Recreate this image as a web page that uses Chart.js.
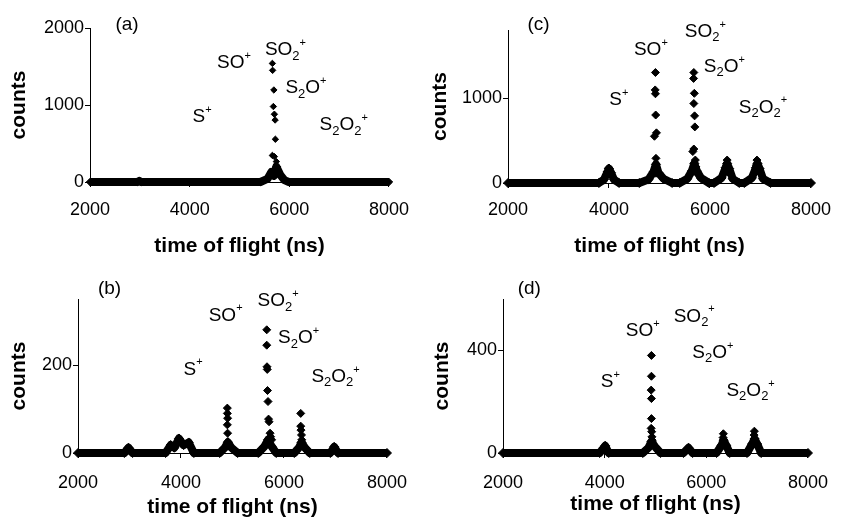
<!DOCTYPE html>
<html>
<head>
<meta charset="utf-8">
<script src="https://cdn.jsdelivr.net/npm/chart.js@4"></script>
<style>
  body { margin: 0; background: #fff; }
  #wrap { position: relative; width: 842px; height: 525px; }
  canvas { position: absolute; }
</style>
</head>
<body>
<div id="wrap">
  <canvas id="chartA" width="421" height="262" style="left:0;top:0"></canvas>
  <canvas id="chartC" width="421" height="262" style="left:421px;top:0"></canvas>
  <canvas id="chartB" width="421" height="263" style="left:0;top:262px"></canvas>
  <canvas id="chartD" width="421" height="263" style="left:421px;top:262px"></canvas>
</div>
<script>
// x-axel (time of flight, ns) - samma för alla fyra paneler
const tofTicks = [2000, 4000, 6000, 8000]
const ionNames = ['S^+', 'SO^+', 'SO_2^+', 'S_2O^+', 'S_2O_2^+']

// panel (a)
const aTicks = [0, 1000, 2000]
const aBaseX = [2000, 2950, 2990, 3030, 5420, 5560, 5640, 5690, 5740, 5820, 5900, 5990, 8000]
const aBaseY = [0, 0, 15, 0, 0, 40, 130, 80, 200, 90, 25, 0, 0]
const aPeakX = [5660, 5665, 5690, 5680, 5700, 5715, 5720, 5660, 5700, 5740, 5760, 5790, 5830]
const aPeakY = [1540, 1450, 1195, 980, 880, 805, 555, 345, 330, 265, 200, 140, 80]

// panel (c)
const cTicks = [0, 1000]
const cBaseX = [2000, 3800, 3900, 3970, 4000, 4040, 4100, 4200, 4600, 4780, 4880, 4930, 4980, 5080, 5250,
  5400, 5550, 5640, 5690, 5740, 5820, 5980, 6080, 6230, 6310, 6340, 6380, 6450, 6580,
  6680, 6830, 6910, 6940, 6980, 7050, 7200, 8000]
const cBaseY = [0, 0, 40, 130, 170, 120, 40, 0, 0, 40, 130, 220, 120, 50, 0,
  0, 50, 140, 230, 140, 60, 0, 0, 60, 180, 230, 170, 50, 0,
  0, 60, 180, 230, 170, 50, 0, 0]
const cPeakX = [4920, 4915, 4920, 4925, 4900, 4940, 4930, 4925, 4930,
  5680, 5675, 5690, 5680, 5695, 5700, 5680, 5660, 5710, 5720, 5730,
  3990, 3980, 6340, 6330, 6350, 6930, 6920, 6940]
const cPeakY = [1300, 1095, 1050, 800, 550, 590, 290, 190, 115,
  1300, 1230, 1055, 935, 790, 660, 400, 370, 270, 190, 120,
  175, 120, 270, 200, 130, 270, 210, 150]

// panel (b)
const bTicks = [0, 200]
const bBaseX = [2000, 2900, 2980, 3060, 3700, 3800, 3870, 3960, 4050, 4150, 4250, 4750, 4850, 4910, 4980, 5100,
  5500, 5620, 5690, 5760, 5850, 6200, 6290, 6340, 6420, 6500, 6900, 6975, 7050, 8000]
const bBaseY = [0, 0, 12, 0, 0, 18, 12, 33, 18, 24, 0, 0, 12, 24, 12, 0,
  0, 15, 30, 15, 0, 0, 12, 24, 10, 0, 0, 14, 0, 0]
const bPeakX = [5665, 5665, 5670, 5675, 5680, 5690, 5700, 5710, 5730, 5740, 5760,
  4900, 4900, 4905, 4900, 4905, 4910, 6325, 6325, 6330, 6340, 6345, 6335]
const bPeakY = [280, 245, 196, 190, 142, 117, 77, 71, 45, 37, 30,
  102, 90, 79, 64, 45, 26, 90, 61, 52, 41, 30, 18]

// panel (d)
const dTicks = [0, 400]
const dBaseX = [2000, 3900, 3980, 4010, 4080, 4750, 4860, 4920, 4990, 5100, 5550, 5650, 5730,
  6200, 6300, 6340, 6390, 6460, 6800, 6900, 6950, 7000, 7080, 8000]
const dBaseY = [0, 0, 20, 28, 0, 0, 20, 45, 25, 0, 0, 20, 0,
  0, 30, 50, 30, 0, 0, 35, 55, 35, 0, 0]
const dPeakX = [4920, 4920, 4915, 4920, 4920, 4915, 4925, 4930, 4935, 6335, 6330, 6340, 6945, 6940, 6950, 6935]
const dPeakY = [380, 299, 245, 212, 134, 96, 83, 63, 50, 75, 60, 45, 85, 70, 55, 40]

const font = 'Arial, "Liberation Sans", sans-serif'

// ritar jonnamnen med sänkt/upphöjd text, placerade i datakoordinater
const ionText = {
  id: 'ionText',
  afterDatasetsDraw(chart, args, opts) {
    const {ctx, scales: {x, y}} = chart
    ctx.save()
    ctx.fillStyle = '#000'
    ctx.textBaseline = 'middle'
    opts.items.forEach(item => {
      let px = x.getPixelForValue(item.x)
      const py = y.getPixelForValue(item.y)
      for (let i = 0; i < item.text.length; i++) {
        let c = item.text[i], size = 19, dy = 0
        if (c === '_') { c = item.text[++i]; size = 13; dy = 6 }
        else if (c === '^') { c = item.text[++i]; size = 11; dy = -7 }
        ctx.font = size + 'px ' + font
        ctx.fillText(c, px, py + dy)
        px += ctx.measureText(c).width
      }
    })
    ctx.restore()
  }
}

const toPoints = (xs, ys) => xs.map((v, i) => ({x: v, y: ys[i]}))

function makePanel(id, p) {
  const items = [{text: p.tag, x: p.pos[0][0], y: p.pos[0][1]}]
  ionNames.forEach((name, i) => items.push({text: name, x: p.pos[i + 1][0], y: p.pos[i + 1][1]}))

  new Chart(document.getElementById(id), {
    type: 'scatter',
    data: {
      datasets: [{
        data: toPoints(p.baseX, p.baseY),
        showLine: true,
        borderColor: '#000',
        backgroundColor: '#000',
        borderWidth: 8,
        borderJoinStyle: 'round',
        pointStyle: 'rectRot',
        pointRadius: p.r + 0.5,
        pointBorderWidth: 1,
        clip: false
      }, {
        data: toPoints(p.peakX, p.peakY),
        showLine: false,
        borderColor: '#000',
        backgroundColor: '#000',
        pointStyle: 'rectRot',
        pointRadius: p.r,
        pointBorderWidth: 1,
        clip: false
      }]
    },
    options: {
      responsive: false,
      animation: false,
      layout: {padding: {left: 0, top: p.box[1], right: p.box[2], bottom: 0}},
      plugins: {legend: {display: false}, tooltip: {enabled: false}, ionText: {items: items}},
      scales: {
        x: {
          type: 'linear', min: 2000, max: 8000, bounds: 'data',
          afterBuildTicks: s => { s.ticks = tofTicks.map(v => ({value: v})) },
          afterFit: s => { s.height = p.box[3] },
          grid: {drawOnChartArea: false, tickLength: 5, color: '#000'},
          border: {color: '#000', width: 1},
          ticks: {color: '#000', padding: p.xPad, font: {size: 18, family: font}, callback: v => v},
          title: {display: true, text: 'time of flight (ns)', color: '#000',
            font: {size: 21, weight: 'bold', family: font}, padding: {top: 0, bottom: p.xTitle}}
        },
        y: {
          type: 'linear', min: 0, max: p.yMax, bounds: 'data',
          afterBuildTicks: s => { s.ticks = p.yTicks.map(v => ({value: v})) },
          afterFit: s => { s.width = p.box[0] },
          grid: {drawOnChartArea: false, tickLength: 5, color: '#000'},
          border: {color: '#000', width: 1},
          ticks: {color: '#000', padding: 1, font: {size: 18, family: font}, callback: v => v},
          title: {display: true, text: 'counts', color: '#000',
            font: {size: 21, weight: 'bold', family: font}, padding: {top: p.yTitle, bottom: 0}}
        }
      }
    },
    plugins: [ionText]
  })
}

// box = [y-axelns bredd, topp, höger, x-axelns höjd]
makePanel('chartA', {tag: '(a)', yMax: 2000, yTicks: aTicks, r: 3.2,
  baseX: aBaseX, baseY: aBaseY, peakX: aPeakX, peakY: aPeakY,
  box: [90, 28, 25, 80], xPad: 12, xTitle: 3, yTitle: 7,
  pos: [[2510, 2039], [4059, 844], [4549, 1545], [5510, 1714], [5922, 1220], [6608, 740]]})

makePanel('chartC', {tag: '(c)', yMax: 1800, yTicks: cTicks, r: 4,
  baseX: cBaseX, baseY: cBaseY, peakX: cPeakX, peakY: cPeakY,
  box: [87, 30, 26, 79], xPad: 11, xTitle: 3, yTitle: 7,
  pos: [[2384, 1859], [4007, 976], [4494, 1565], [5501, 1780], [5877, 1368], [6572, 890]]})

makePanel('chartB', {tag: '(b)', yMax: 350, yTicks: bTicks, r: 4,
  baseX: bBaseX, baseY: bBaseY, peakX: bPeakX, peakY: bPeakY,
  box: [78, 37, 27, 72], xPad: 14, xTitle: 5, yTitle: 7,
  pos: [[2386, 373], [4050, 190], [4538, 313], [5488, 345], [5886, 261], [6532, 173]]})

makePanel('chartD', {tag: '(d)', yMax: 600, yTicks: dTicks, r: 4,
  baseX: dBaseX, baseY: dBaseY, peakX: dPeakX, peakY: dPeakY,
  box: [82, 37, 21, 72], xPad: 14, xTitle: 8, yTitle: 9,
  pos: [[2289, 638], [3925, 276], [4415, 476], [5358, 532], [5723, 390], [6396, 243]]})
</script>
</body>
</html>
